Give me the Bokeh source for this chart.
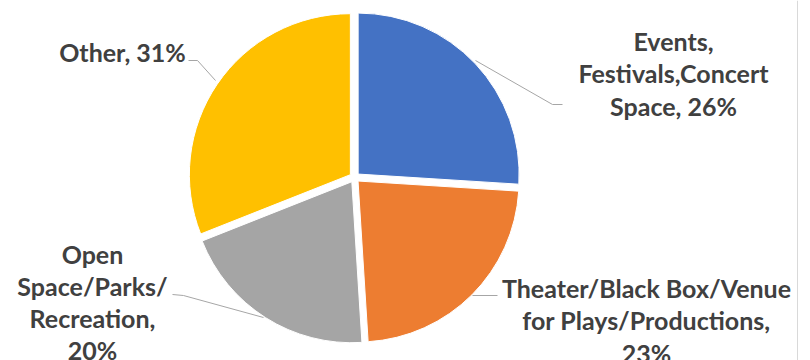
import math
from bokeh.plotting import figure
from bokeh.models import Range1d
from bokeh.core.properties import value
from bokeh.embed import file_html
from bokeh.resources import INLINE

# ---- data ----
categories = ["Events, Festivals,Concert Space", "Theater/Black Box/Venue for Plays/Productions",
              "Open Space/Parks/Recreation", "Other"]
shares = [26, 23, 20, 31]
colors = ["#4472C4", "#ED7D31", "#A5A5A5", "#FFC000"]
label_lines = [
    ["Events,", "Festivals,Concert", "Space, 26%"],
    ["Theater/Black Box/Venue", "for Plays/Productions,", "23%"],
    ["Open", "Space/Parks/", "Recreation,", "20%"],
    ["Other, 31%"],
]

# ---- layout (pixel coords, y down) ----
W, H = 810, 360
CX, CY, R, EXPLODE = 354, 177, 161, 5
label_pos = [(673, 40, 32.5), (646, 287, 32.5), (92, 253, 32.3), (122, 51, 32)]
leaders = [
    [(475, 60), (552, 104), (562, 104)],
    [(472, 295), (497, 295)],
    [(263, 317), (183, 295), (172, 294)],
    [(215, 80), (197, 60), (188, 60)],
]

p = figure(width=W, height=H, x_range=Range1d(0, W), y_range=Range1d(0, H),
           output_backend="svg", toolbar_location=None, min_border=0)
p.axis.visible = False
p.grid.visible = False
p.outline_line_color = None
p.background_fill_color = "white"

total = sum(shares)
cum = 0.0
xs, ys, sa, ea = [], [], [], []
for s in shares:
    a0 = cum / total
    a1 = (cum + s) / total
    cum += s
    mid = math.pi / 2 - (a0 + a1) * math.pi
    xs.append(CX + EXPLODE * math.cos(mid))
    ys.append((H - CY) + EXPLODE * math.sin(mid))
    sa.append(math.pi / 2 - a1 * 2 * math.pi)
    ea.append(math.pi / 2 - a0 * 2 * math.pi)

p.wedge(x=xs, y=ys, radius=R, start_angle=sa, end_angle=ea,
        fill_color=colors, line_color="white", line_width=1)

# leader lines
for pts in leaders:
    p.line(x=[q[0] for q in pts], y=[H - q[1] for q in pts], line_color="#A6A6A6", line_width=1)

# labels
tx, ty, tt = [], [], []
for lines, (lx, ly, lh) in zip(label_lines, label_pos):
    for i, ln in enumerate(lines):
        tx.append(lx)
        ty.append(H - (ly + i * lh))
        tt.append(ln)
p.text(x=tx, y=ty, text=tt, text_font=value("Lato"), text_font_style="bold",
       text_font_size="25px", text_color="#404040", text_align="center", text_baseline="middle")

# right border line of chart area
p.line(x=[797, 797], y=[0, H], line_color="#D9D9D9", line_width=1)

open("out.html", "w").write(file_html(p, INLINE))
